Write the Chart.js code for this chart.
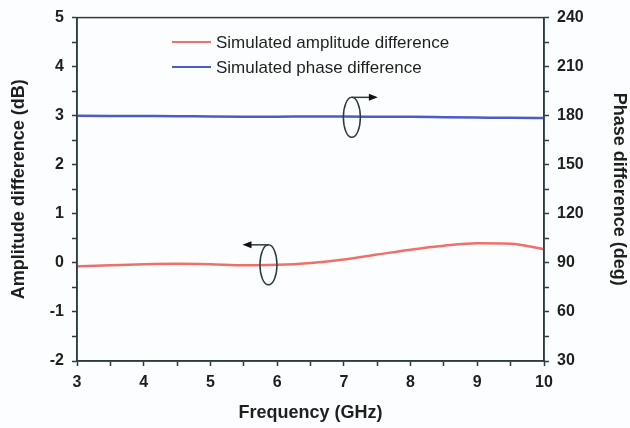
<!DOCTYPE html>
<html>
<head>
<meta charset="utf-8">
<script src="https://cdn.jsdelivr.net/npm/chart.js@4/dist/chart.umd.min.js"></script>
<style>
  html, body { margin: 0; padding: 0; background: #fcfdfe; }
  #wrap { width: 630px; height: 428px; position: relative; }
</style>
</head>
<body>
<div id="wrap"><canvas id="myChart"></canvas></div>
<script>
// data
const freqGHz = [3, 3.5, 4, 4.5, 5, 5.5, 6, 6.5, 7, 7.5, 8, 8.5, 9, 9.5, 10];
const amplitudeDiff = [-0.07, -0.05, -0.03, -0.02, -0.03, -0.05, -0.04, 0.0, 0.07, 0.17, 0.27, 0.35, 0.40, 0.39, 0.28];
const phaseDiff = [180, 179.9, 179.8, 179.7, 179.5, 179.4, 179.4, 179.5, 179.5, 179.4, 179.3, 179.1, 178.9, 178.7, 178.6];
const xTicks = [3, 4, 5, 6, 7, 8, 9, 10];
const ampTicks = [-2, -1, 0, 1, 2, 3, 4, 5];
const phaseTicks = [30, 60, 90, 120, 150, 180, 210, 240];
const legendLabels = ['Simulated amplitude difference', 'Simulated phase difference'];

const RED = '#f07069';
const BLUE = '#4a5cc8';
const AXIS = '#2c3b42';
const TEXT = '#1f1f1f';
const FONT = "'Liberation Sans', Arial, sans-serif";

function isMajor(v, list) { return list.some(t => Math.abs(t - v) < 1e-6); }

// frame, legend and the ellipse/arrow markers
const extras = {
    id: 'extras',
    afterDraw(chart) {
        const c = chart.ctx, a = chart.chartArea;
        const x = chart.scales.x, y = chart.scales.y, y2 = chart.scales.y2;
        c.save();
        c.strokeStyle = AXIS;
        c.lineWidth = 1.5;
        c.strokeRect(a.left, a.top, a.right - a.left, a.bottom - a.top);

        // legend
        c.font = '17px ' + FONT;
        c.textBaseline = 'middle';
        c.fillStyle = TEXT;
        [[RED, 42], [BLUE, 67]].forEach(([col, ly], i) => {
            c.strokeStyle = col;
            c.lineWidth = 2;
            c.beginPath(); c.moveTo(172, ly); c.lineTo(211, ly); c.stroke();
            c.fillText(legendLabels[i], 216, ly + 1);
        });

        // ellipse + arrow markers
        function marker(cx, cy, dir) {
            c.strokeStyle = AXIS;
            c.fillStyle = '#111';
            c.lineWidth = 1.5;
            c.beginPath();
            c.ellipse(cx, cy, 8.5, 20, 0, 0, Math.PI * 2);
            c.stroke();
            const top = cy - 20;
            const end = cx + dir * 26;
            c.beginPath(); c.moveTo(cx, top); c.lineTo(end - dir * 8, top); c.stroke();
            c.beginPath();
            c.moveTo(end, top);
            c.lineTo(end - dir * 9, top - 3.5);
            c.lineTo(end - dir * 9, top + 3.5);
            c.closePath(); c.fill();
        }
        marker(x.getPixelForValue(7.12), y2.getPixelForValue(179), 1);
        marker(x.getPixelForValue(5.87), y.getPixelForValue(-0.04), -1);
        c.restore();
    }
};

const tickFont = { family: FONT, size: 16, weight: 'bold' };
const titleFont = { family: FONT, size: 18, weight: 'bold' };

function halfSteps(list, step) {
    return s => {
        const t = [];
        for (let v = list[0]; v <= list[list.length - 1] + 1e-9; v += step) t.push({ value: v });
        s.ticks = t;
    };
}

var ctx = document.getElementById('myChart').getContext('2d');
var myChart = new Chart(ctx, {
    type: 'line',
    data: {
        datasets: [{
            label: legendLabels[0],
            data: freqGHz.map((f, i) => ({ x: f, y: amplitudeDiff[i] })),
            borderColor: RED,
            borderWidth: 2.5,
            pointRadius: 0,
            cubicInterpolationMode: 'monotone',
            yAxisID: 'y'
        }, {
            label: legendLabels[1],
            data: freqGHz.map((f, i) => ({ x: f, y: phaseDiff[i] })),
            borderColor: BLUE,
            borderWidth: 2.5,
            pointRadius: 0,
            cubicInterpolationMode: 'monotone',
            yAxisID: 'y2'
        }]
    },
    options: {
        responsive: true,
        maintainAspectRatio: false,
        animation: false,
        layout: { padding: { top: 17, left: 0, right: 0, bottom: 0 } },
        plugins: { legend: { display: false }, tooltip: { enabled: false } },
        scales: {
            x: {
                type: 'linear',
                min: xTicks[0], max: xTicks[xTicks.length - 1],
                afterFit: s => { s.height = 67; },
                afterBuildTicks: halfSteps(xTicks, 0.5),
                ticks: {
                    autoSkip: false, maxRotation: 0, padding: 7, color: TEXT, font: tickFont,
                    callback: v => isMajor(v, xTicks) ? v : ''
                },
                grid: { drawOnChartArea: false, tickLength: 5, tickColor: AXIS, tickWidth: 1.5 },
                border: { color: AXIS, width: 1.5 },
                title: { display: true, text: 'Frequency (GHz)', color: TEXT, font: titleFont, padding: { top: 0, bottom: 4 } }
            },
            y: {
                position: 'left',
                min: ampTicks[0], max: ampTicks[ampTicks.length - 1],
                afterFit: s => { s.width = 77; },
                afterBuildTicks: halfSteps(ampTicks, 0.5),
                ticks: {
                    autoSkip: false, padding: 8, color: TEXT, font: tickFont,
                    callback: v => isMajor(v, ampTicks) ? v : ''
                },
                grid: { drawOnChartArea: false, tickLength: 5, tickColor: AXIS, tickWidth: 1.5 },
                border: { color: AXIS, width: 1.5 },
                title: { display: true, text: 'Amplitude difference (dB)', color: TEXT, font: titleFont, padding: { top: 8, bottom: 0 } }
            },
            y2: {
                position: 'right',
                min: phaseTicks[0], max: phaseTicks[phaseTicks.length - 1],
                afterFit: s => { s.width = 86; },
                afterBuildTicks: halfSteps(phaseTicks, 15),
                ticks: {
                    autoSkip: false, padding: 8, color: TEXT, font: tickFont,
                    callback: v => isMajor(v, phaseTicks) ? v : ''
                },
                grid: { drawOnChartArea: false, tickLength: 5, tickColor: AXIS, tickWidth: 1.5 },
                border: { color: AXIS, width: 1.5 },
                title: { display: true, text: 'Phase difference (deg)', color: TEXT, font: titleFont, padding: { top: 0, bottom: 0 } }
            }
        }
    },
    plugins: [extras]
});
</script>
</body>
</html>
